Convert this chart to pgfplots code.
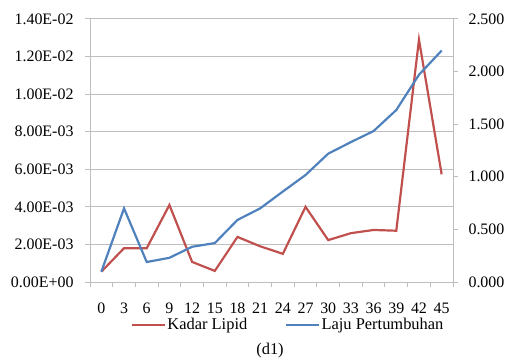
\documentclass[border=0pt]{standalone}
\usepackage{fontspec}
\setmainfont{Liberation Serif}
\newfontfamily\lserif{Liberation Serif}
\usepackage{pgfplots}
\pgfplotsset{compat=1.18}
\definecolor{xred}{HTML}{C0504D}
\definecolor{xblue}{HTML}{4F81BD}
\definecolor{xgrid}{HTML}{BEBEBE}
\begin{document}
\begin{tikzpicture}[x=1bp,y=1bp]
\path[use as bounding box] (0,0) rectangle (505,360);
\pgfplotsset{
  common/.style={
    scale only axis, width=363bp, height=263bp,
    at={(90bp,78bp)}, anchor=south west,
    xmin=-0.5, xmax=15.5,
    scaled y ticks=false, scaled x ticks=false,
    tick align=outside, major tick length=5bp,
    tick style={xgrid, line width=1pt},
    axis line style={-, xgrid, line width=1pt},
    ticklabel style={font=\lserif\fontsize{16}{19}\selectfont},
    /pgf/number format/assume math mode=true,
  }
}
\begin{axis}[common,
  axis x line*=bottom, axis y line*=left,
  ymin=0, ymax=0.014,
  ytick={0,0.002,0.004,0.006,0.008,0.010,0.012,0.014},
  yticklabels={0.00E+00,2.00E-03,4.00E-03,6.00E-03,8.00E-03,1.00E-02,1.20E-02,1.40E-02},
  yticklabel style={xshift=-8bp},
  ymajorgrids, grid style={xgrid, line width=1pt},
  xtick={-0.5,0.5,...,15.5}, xticklabels={},
  extra x ticks={0,1,...,15},
  extra x tick labels={0,3,6,9,12,15,18,21,24,27,30,33,36,39,42,45},
  extra x tick style={major tick length=0pt, xticklabel style={yshift=-17bp}},
]
\addplot[xred, line width=2.2pt] coordinates {
(0,0.00055) (1,0.0018) (2,0.0018) (3,0.0041) (4,0.00107) (5,0.00059)
(6,0.0024) (7,0.0019) (8,0.0015) (9,0.0040) (10,0.00223) (11,0.0026)
(12,0.00277) (13,0.00273) (14,0.0129) (15,0.00573)};
\end{axis}
\begin{axis}[common,
  axis x line=none, axis y line*=right,
  ymin=0, ymax=2.5,
  ytick={0,0.5,1,1.5,2,2.5},
  yticklabels={0.000,0.500,1.000,1.500,2.000,2.500},
  yticklabel style={xshift=7bp},
  legend columns=2,
  legend style={draw=none, fill=none, at={(axis description cs:0.545,-0.1635)}, anchor=center,
    font=\lserif\fontsize{16.5}{19}\selectfont,
    nodes={inner xsep=1.5bp},
    /tikz/every even column/.append style={column sep=36bp}},
  legend image code/.code={\draw[#1] (0bp,0bp) -- (33bp,0bp);},
]
\addlegendimage{xred, line width=2.2pt}
\addlegendentry{\lserif Kadar Lipid}
\addplot[xblue, line width=2.2pt] coordinates {
(0,0.098) (1,0.70) (2,0.19) (3,0.23) (4,0.335) (5,0.37)
(6,0.59) (7,0.70) (8,0.86) (9,1.017) (10,1.22) (11,1.33)
(12,1.435) (13,1.635) (14,1.97) (15,2.20)};
\addlegendentry{\lserif Laju Pertumbuhan}
\end{axis}
\node[font=\lserif\fontsize{16.5}{19}\selectfont] at (270,9) {(d1)};
\end{tikzpicture}
\end{document}
